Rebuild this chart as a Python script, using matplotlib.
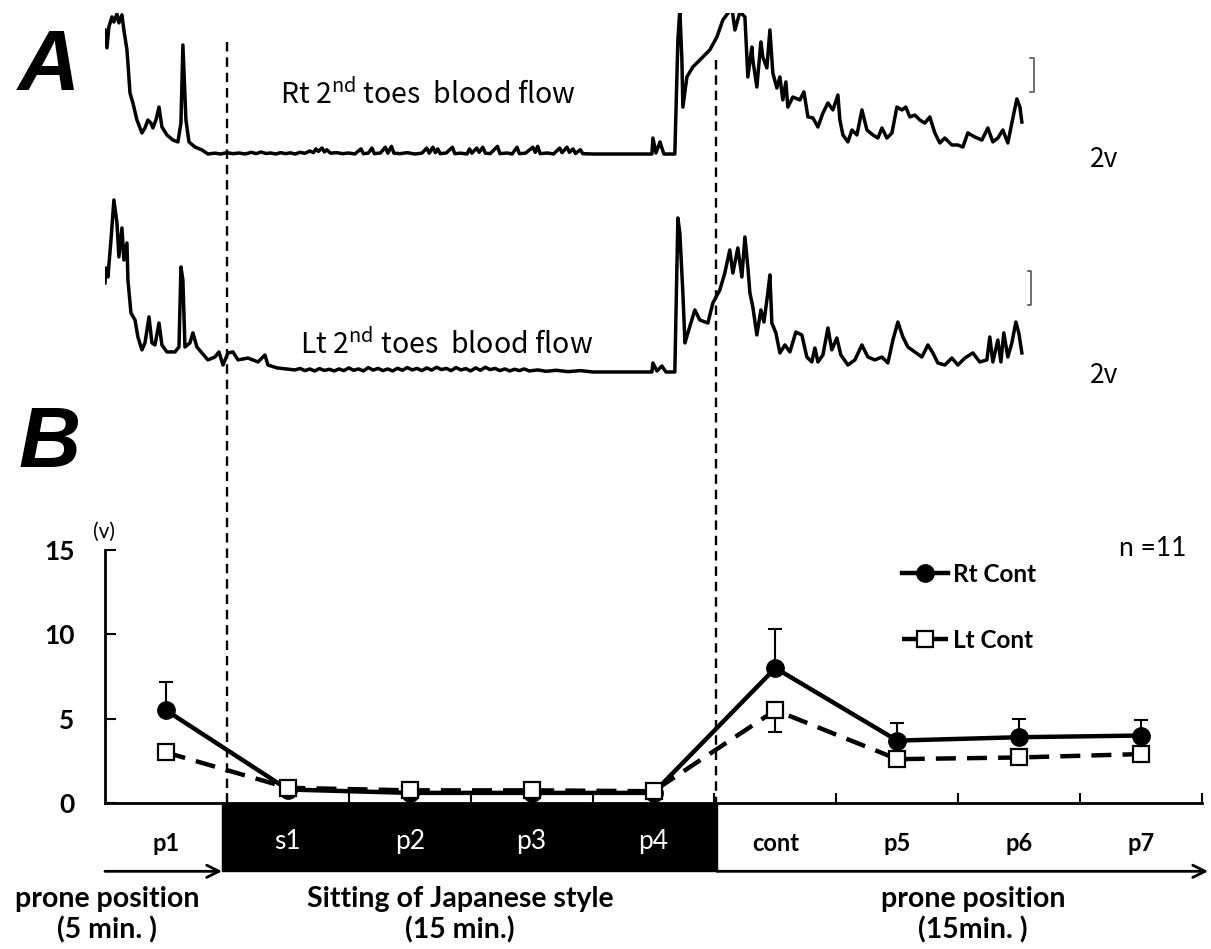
import numpy as np
import matplotlib
matplotlib.use("Agg")
import matplotlib.pyplot as plt
from matplotlib.lines import Line2D
from matplotlib.patches import Rectangle
from matplotlib import transforms

plt.rcParams["font.family"] = ["Lato", "DejaVu Sans"]
plt.rcParams["mathtext.fontset"] = "custom"

W, H = 1211, 949

# --- B: mean blood flow per period (V), n = 11 ---
periods = ["p1", "s1", "p2", "p3", "p4", "cont", "p5", "p6", "p7"]
sitting = ["s1", "p2", "p3", "p4"]
rt_mean = [5.5, 0.8, 0.6, 0.6, 0.6, 8.0, 3.7, 3.9, 4.0]
rt_err_up = [1.7, 0, 0, 0, 0, 2.3, 1.06, 1.1, 0.9]
lt_mean = [3.0, 0.9, 0.75, 0.75, 0.7, 5.5, 2.6, 2.7, 2.9]
lt_err_down = [0, 0, 0, 0, 0, 1.3, 0, 0, 0]

# --- A: raw laser-Doppler traces, time in period units (same axis as B) ---
# right toe: prone, sitting, prone again
rt_pre_t = [-0.500, -0.484, -0.468, -0.443, -0.427, -0.402, -0.386, -0.361, -0.345, -0.320,
            -0.312, -0.295, -0.271, -0.238, -0.197, -0.172, -0.148, -0.123, -0.107, -0.082,
            -0.057, -0.033, 0.008, 0.057, 0.098, 0.123, 0.139, 0.164, 0.189, 0.238,
            0.295, 0.344]
rt_pre_v = [7.29, 6.24, 7.47, 8.06, 7.76, 8.24, 7.71, 8.18, 7.29, 6.12,
            5.35, 3.59, 3.00, 2.00, 1.24, 1.53, 2.00, 1.82, 1.53, 2.00,
            2.76, 1.59, 1.12, 0.82, 0.71, 1.82, 6.41, 2.00, 0.71, 0.41,
            0.24, 0.00]
rt_sit_t = [0.40, 0.45, 0.50, 0.55, 0.60, 0.65, 0.70, 0.74, 0.78, 0.82,
            0.86, 0.90, 0.94, 0.98, 1.02, 1.06, 1.10, 1.14, 1.18, 1.21,
            1.23, 1.25, 1.28, 1.30, 1.32, 1.35, 1.40, 1.45, 1.50, 1.55,
            1.60, 1.62, 1.66, 1.69, 1.71, 1.76, 1.80, 1.82, 1.85, 1.87,
            1.92, 1.98, 2.04, 2.10, 2.14, 2.16, 2.19, 2.21, 2.23, 2.25,
            2.30, 2.35, 2.37, 2.42, 2.47, 2.49, 2.51, 2.55, 2.57, 2.60,
            2.62, 2.66, 2.72, 2.74, 2.80, 2.84, 2.88, 2.90, 2.95, 3.01,
            3.03, 3.05, 3.07, 3.13, 3.18, 3.23, 3.25, 3.29, 3.31, 3.34,
            3.36, 3.40, 3.42, 3.503, 3.987, 3.995, 4.020, 4.053, 4.085, 4.175]
rt_sit_v = [0.05, 0.00, 0.08, 0.02, 0.06, 0.00, 0.10, 0.02, 0.12, 0.03,
            0.06, 0.00, 0.08, 0.02, 0.07, 0.00, 0.10, 0.04, 0.18, 0.08,
            0.30, 0.15, 0.35, 0.12, 0.25, 0.05, 0.08, 0.02, 0.06, 0.00,
            0.30, 0.02, 0.05, 0.35, 0.02, 0.06, 0.40, 0.05, 0.45, 0.05,
            0.02, 0.08, 0.00, 0.05, 0.35, 0.05, 0.40, 0.08, 0.30, 0.02,
            0.06, 0.40, 0.02, 0.05, 0.00, 0.30, 0.05, 0.35, 0.10, 0.40,
            0.05, 0.02, 0.45, 0.02, 0.06, 0.00, 0.40, 0.02, 0.05, 0.40,
            0.10, 0.45, 0.02, 0.06, 0.00, 0.35, 0.08, 0.40, 0.10, 0.30,
            0.03, 0.25, 0.02, 0.00, 0.00, 0.94, 0.06, 0.71, 0.00, 0.00]
rt_post_t = [4.200, 4.216, 4.233, 4.241, 4.274, 4.323, 4.364, 4.405, 4.462,
             4.520, 4.569, 4.643, 4.668, 4.709, 4.750, 4.774, 4.807, 4.815, 4.848,
             4.881, 4.897, 4.930, 4.955, 4.979, 5.012, 5.037, 5.061, 5.086, 5.102,
             5.143, 5.201, 5.234, 5.267, 5.308, 5.349, 5.390, 5.431, 5.472, 5.513,
             5.529, 5.554, 5.595, 5.628, 5.669, 5.710, 5.751, 5.800, 5.841, 5.874,
             5.915, 5.956, 5.997, 6.038, 6.070, 6.103, 6.144, 6.185, 6.226, 6.267,
             6.308, 6.349, 6.390, 6.448, 6.497, 6.538, 6.579, 6.636, 6.694, 6.743,
             6.784, 6.825, 6.866, 6.907, 6.940, 6.981, 7.006, 7.022]
rt_post_v = [6.71, 8.47, 5.53, 2.76, 4.53, 5.12, 5.41, 5.71, 6.12,
             6.88, 7.88, 8.59, 7.29, 8.35, 8.06, 4.53, 6.29, 5.53, 3.94,
             6.59, 5.71, 5.06, 7.29, 4.76, 3.88, 4.53, 3.18, 4.24, 2.76,
             3.35, 3.18, 3.65, 2.18, 2.12, 1.59, 2.41, 3.00, 2.59, 3.47,
             2.00, 1.12, 0.71, 1.41, 1.12, 2.59, 1.41, 1.12, 0.94, 1.53,
             0.94, 1.24, 2.76, 2.59, 2.76, 2.18, 2.29, 2.00, 1.82, 2.18,
             1.24, 0.65, 0.94, 0.53, 0.53, 0.41, 1.24, 1.00, 0.82, 1.53,
             0.71, 0.94, 1.41, 0.65, 1.82, 3.24, 2.76, 1.88]

# left toe
lt_pre_t = [-0.500, -0.492, -0.476, -0.451, -0.427, -0.402, -0.386, -0.361, -0.345, -0.320,
            -0.312, -0.287, -0.254, -0.230, -0.197, -0.172, -0.139, -0.115, -0.090, -0.057,
            -0.033, 0.008, 0.074, 0.107, 0.123, 0.139, 0.156, 0.197, 0.221, 0.254,
            0.295, 0.344, 0.402, 0.435, 0.468, 0.509, 0.550, 0.591, 0.673, 0.755,
            0.812, 0.837, 0.911, 1.058]
lt_pre_v = [5.18, 6.06, 5.53, 7.71, 10.06, 8.71, 6.71, 8.41, 6.53, 7.53,
            5.35, 3.41, 3.00, 2.00, 1.24, 1.65, 3.18, 1.65, 1.53, 2.82,
            1.53, 1.12, 1.12, 1.41, 6.12, 5.35, 1.41, 1.65, 2.24, 1.41,
            1.06, 0.65, 0.82, 1.12, 0.35, 1.06, 1.12, 0.65, 0.76, 0.53,
            0.94, 0.35, 0.18, 0.06]
lt_sit_t = [1.10, 1.14, 1.18, 1.22, 1.26, 1.30, 1.34, 1.38, 1.42, 1.46,
            1.50, 1.54, 1.58, 1.62, 1.66, 1.70, 1.74, 1.78, 1.82, 1.86,
            1.90, 1.94, 1.98, 2.02, 2.06, 2.10, 2.14, 2.18, 2.22, 2.26,
            2.30, 2.34, 2.38, 2.42, 2.46, 2.50, 2.54, 2.58, 2.62, 2.66,
            2.70, 2.74, 2.78, 2.82, 2.86, 2.90, 2.94, 2.98, 3.05, 3.12,
            3.20, 3.30, 3.40, 3.503, 3.987, 3.995, 4.028, 4.069, 4.102, 4.175]
lt_sit_v = [0.15, 0.02, 0.12, 0.00, 0.14, 0.03, 0.10, 0.00, 0.12, 0.02,
            0.18, 0.04, 0.12, 0.00, 0.20, 0.05, 0.15, 0.02, 0.12, 0.00,
            0.16, 0.04, 0.20, 0.06, 0.15, 0.02, 0.18, 0.05, 0.22, 0.08,
            0.15, 0.02, 0.20, 0.06, 0.14, 0.00, 0.18, 0.04, 0.22, 0.08,
            0.15, 0.02, 0.12, 0.00, 0.10, 0.02, 0.12, 0.00, 0.06, -0.02,
            0.04, -0.04, 0.02, -0.06, -0.06, 0.47, 0.00, 0.29, -0.06, -0.06]
lt_post_t = [4.200, 4.216, 4.241, 4.258, 4.282, 4.339, 4.380, 4.446, 4.487,
             4.544, 4.585, 4.626, 4.651, 4.692, 4.725, 4.750, 4.774, 4.791, 4.815,
             4.848, 4.881, 4.906, 4.938, 4.955, 4.971, 5.004, 5.037, 5.078, 5.119,
             5.168, 5.217, 5.258, 5.299, 5.324, 5.349, 5.390, 5.431, 5.463, 5.504,
             5.537, 5.595, 5.652, 5.710, 5.759, 5.816, 5.874, 5.923, 5.964, 6.005,
             6.046, 6.087, 6.144, 6.202, 6.251, 6.292, 6.333, 6.390, 6.448, 6.497,
             6.554, 6.620, 6.677, 6.735, 6.759, 6.784, 6.825, 6.850, 6.874, 6.907,
             6.940, 6.973, 6.997, 7.022]
lt_post_v = [9.00, 8.12, 4.59, 1.65, 2.24, 3.59, 3.00, 2.82, 4.00,
             4.76, 5.76, 7.12, 5.76, 7.24, 5.53, 7.88, 6.12, 4.59, 3.76,
             2.12, 3.59, 2.88, 4.59, 5.65, 2.82, 2.24, 1.06, 1.53, 1.12,
             2.29, 2.12, 0.82, 0.53, 1.35, 0.53, 0.94, 2.53, 1.24, 1.94,
             0.94, 0.35, 0.65, 1.53, 0.82, 0.65, 0.82, 0.47, 1.82, 2.88,
             2.00, 1.41, 1.12, 0.82, 1.53, 1.06, 0.47, 0.35, 0.76, 0.35,
             0.76, 1.06, 0.53, 0.65, 2.00, 0.53, 1.82, 0.53, 2.24, 0.82,
             1.65, 2.88, 2.24, 1.06]

rt_t = rt_pre_t + rt_sit_t + rt_post_t
rt_v = rt_pre_v + rt_sit_v + rt_post_v
lt_t = lt_pre_t + lt_sit_t + lt_post_t
lt_v = lt_pre_v + lt_sit_v + lt_post_v


def frame(left, top, right, bottom):
    # pixel box -> figure fraction rect
    return [left / W, 1 - bottom / H, (right - left) / W, (bottom - top) / H]


fig = plt.figure(figsize=(W / 100, H / 100), dpi=100)
ax = fig.add_axes(frame(105, 550, 1202, 803))
ax_rt = fig.add_axes(frame(105, 13, 1202, 170), sharex=ax)
ax_lt = fig.add_axes(frame(105, 185, 1202, 390), sharex=ax)

# ---------- panel A ----------
jp = ["Noto Sans CJK JP", "DejaVu Sans"]
ax_rt.plot(rt_t, rt_v, color="black", lw=2.5)
ax_lt.plot(lt_t, lt_v, color="black", lw=2.5)
ax_rt.set_ylim(-0.94, 8.29)
ax_lt.set_ylim(-1.12, 10.94)
for a in (ax_rt, ax_lt):
    a.axis("off")

# 2 V calibration bars
ax_rt.plot([7.09, 7.12, 7.12, 7.09], [3.65, 3.65, 5.65, 5.65], color="#555555", lw=1.2)
ax_lt.plot([7.07, 7.10, 7.10, 7.07], [3.88, 3.88, 5.88, 5.88], color="#555555", lw=1.2)
ax_rt.text(7.70, -0.35, "2v", ha="center", va="center", fontsize=19, family=jp)
ax_lt.text(7.70, -0.24, "2v", ha="center", va="center", fontsize=19, family=jp)

ax_rt.text(0.935, 3.47, r"Rt 2$^{\mathregular{nd}}$ toes  blood flow",
           ha="left", va="center", fontsize=20.5, family=jp)
ax_lt.text(1.10, 1.53, r"Lt 2$^{\mathregular{nd}}$ toes  blood flow",
           ha="left", va="center", fontsize=20.5, family=jp)

# ---------- panel B ----------
x = np.arange(len(periods))
rt_mean = np.array(rt_mean)
lt_mean = np.array(lt_mean)
rt_err_up = np.array(rt_err_up)
lt_err_down = np.array(lt_err_down)

m = rt_err_up > 0
ax.errorbar(x[m], rt_mean[m], yerr=[np.zeros(m.sum()), rt_err_up[m]], fmt="none",
            ecolor="black", elinewidth=1.5, capsize=5, capthick=1.5, zorder=2)
m = lt_err_down > 0
ax.errorbar(x[m], lt_mean[m], yerr=[lt_err_down[m], np.zeros(m.sum())], fmt="none",
            ecolor="black", elinewidth=1.5, capsize=5, capthick=1.5, zorder=2)

rt_line, = ax.plot(x, rt_mean, color="black", lw=3.2, marker="o", ms=12.5,
                   zorder=3, clip_on=False)
lt_line, = ax.plot(x, lt_mean, color="black", lw=3.2, ls=(0, (4.5, 2.5)), marker="s",
                   ms=11, mfc="white", mec="black", mew=1.6, zorder=4, clip_on=False)

ax.set_xlim(-0.5, 8.5)
ax.set_ylim(0, 15)
ax.spines[["top", "right"]].set_visible(False)
ax.spines["left"].set_bounds(0, 15)
for s in ("left", "bottom"):
    ax.spines[s].set_linewidth(2)
ax.set_yticks([0, 5, 10, 15])
ax.set_xticks(np.arange(0.5, 9, 1))
ax.set_xticklabels([])
ax.tick_params(axis="y", direction="in", length=8, width=1.5, pad=22, labelsize=19)
ax.tick_params(axis="x", direction="in", length=7, width=1.5)
for lab in ax.get_yticklabels():
    lab.set_fontweight("bold")
ax.text(-0.51, 16.1, "(v)", ha="center", va="center", fontsize=15, clip_on=False)

# sitting period bar and time arrow below the axis
ax.add_patch(Rectangle((0.46, -4.05), 4.06, 4.05, color="black", clip_on=False, zorder=1))
arrow = dict(arrowstyle="->", lw=2, color="black", mutation_scale=22, shrinkA=0, shrinkB=0)
ax.annotate("", xy=(0.46, -4.05), xytext=(-0.5, -4.05), arrowprops=arrow,
            annotation_clip=False)
ax.annotate("", xy=(8.55, -4.05), xytext=(4.52, -4.05), arrowprops=arrow,
            annotation_clip=False)

for i, name in enumerate(periods):
    if name in sitting:
        ax.text(i, -2.3, name, ha="center", va="center", fontsize=19, color="white",
                clip_on=False)
    else:
        ax.text(i, -2.38, name, ha="center", va="center", fontsize=17, weight="bold",
                clip_on=False)

ax.legend([rt_line, lt_line], ["Rt Cont", "Lt Cont"], loc="upper left",
          bbox_to_anchor=(902 / W, 1 - 563 / H), bbox_transform=fig.transFigure,
          frameon=False, handlelength=1.9, handletextpad=0.2, labelspacing=1.75,
          borderpad=0, borderaxespad=0, prop=dict(weight="bold", size=17.5))
fig.text(1153 / W, 1 - 549 / H, "n =11", ha="center", va="center", fontsize=19)

# phase labels
for cx, lines in [(107, ["prone position", "(5 min. )"]),
                  (460, ["Sitting of Japanese style", "(15 min.)"]),
                  (973, ["prone position", "(15min. )"])]:
    fig.text(cx / W, 1 - 899 / H, lines[0], ha="center", va="center", fontsize=20.5,
             weight="bold")
    fig.text(cx / W, 1 - 930 / H, lines[1], ha="center", va="center", fontsize=20.5,
             weight="bold")

# event markers running through both panels
trans = transforms.blended_transform_factory(ax.transData, fig.transFigure)
for xd, top in [(0.5, 42), (4.51, 60)]:
    fig.add_artist(Line2D([xd, xd], [1 - top / H, 1 - 803 / H], transform=trans,
                          ls=(0, (4, 2.5)), lw=1.7, color="black"))

fig.text(18 / W, 1 - 68 / H, "A", fontsize=62, weight="bold", style="italic",
         family="Liberation Sans", va="center")
fig.text(18 / W, 1 - 445 / H, "B", fontsize=62, weight="bold", style="italic",
         family="Liberation Sans", va="center")

fig.savefig("out.png", dpi=100)
